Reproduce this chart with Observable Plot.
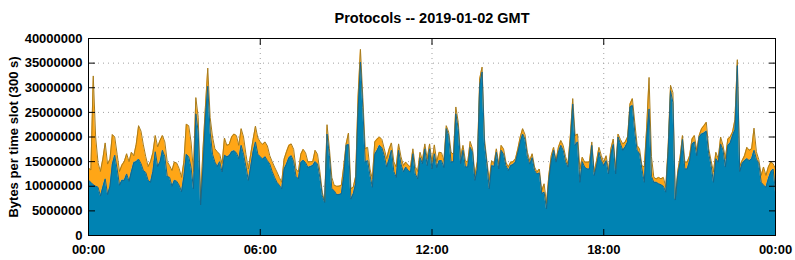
<!DOCTYPE html>
<html><head><meta charset="utf-8">
<script src="https://cdn.jsdelivr.net/npm/d3@7"></script>
<script src="https://cdn.jsdelivr.net/npm/@observablehq/plot@0.6"></script>
<style>body{margin:0;background:#fff}</style>
</head><body><div id="chart"></div>
<script>
const title = "Protocols -- 2019-01-02 GMT";
const yLabel = "Bytes per time slot (300 s)";
const unit = 1000000; // values below are in millions of bytes
const slotMinutes = 5;
const xTicks = [0, 6, 12, 18, 24];
const xTickLabels = ["00:00", "06:00", "12:00", "18:00", "00:00"];
const yTicks = [0, 5000000, 10000000, 15000000, 20000000, 25000000, 30000000, 35000000, 40000000];

// lower (blue) series, one value per 300 s slot
const blueSeries = [
11.2,10.8,10.3,10.0,9.8,8.0,9.8,11.5,8.3,10.0,
14.5,16.3,13.5,10.2,11.2,11.2,12.5,11.0,13.0,14.8,
15.0,15.5,14.6,13.2,12.8,11.2,10.8,13.0,17.0,14.0,
15.0,17.3,16.0,12.0,11.8,10.0,11.2,11.0,10.2,8.9,
12.0,16.5,16.0,13.8,9.5,24.7,21.0,6.2,14.0,24.0,
30.3,21.0,16.5,14.9,14.0,15.0,12.9,16.3,16.0,16.2,
17.0,17.2,16.8,15.6,18.3,16.5,14.0,11.2,14.0,17.0,
19.0,16.5,16.0,15.5,16.0,15.2,14.5,13.0,11.8,10.8,
10.2,9.5,13.5,14.5,15.8,16.2,15.0,12.0,11.5,14.8,
15.3,14.8,13.8,14.0,14.2,15.0,14.5,11.8,8.1,6.7,
20.6,16.2,9.5,9.1,8.3,8.3,8.5,12.0,18.3,18.5,
7.4,8.5,10.5,25.4,35.2,26.0,14.9,15.2,12.2,9.8,
16.5,17.3,18.3,17.8,16.2,13.9,15.5,17.3,13.0,11.8,
17.3,14.5,12.9,13.9,13.2,12.9,16.6,12.5,11.5,15.8,
14.6,17.6,14.2,17.6,13.5,16.6,13.8,15.2,15.2,13.8,
21.7,20.3,14.9,15.0,24.7,21.7,14.6,17.3,13.9,13.9,
17.9,16.9,11.2,13.5,30.5,33.2,18.6,14.6,9.5,14.2,
14.0,16.9,13.5,17.3,16.5,14.2,13.2,14.2,14.4,14.9,
16.9,19.0,20.6,19.5,16.0,14.5,15.8,13.2,12.5,12.7,
8.5,8.8,5.4,11.3,15.2,17.3,14.9,16.9,18.3,17.3,
15.0,13.9,19.0,26.7,18.3,19.0,10.8,15.0,13.9,13.5,
13.5,18.3,12.2,14.2,16.9,15.2,14.2,15.2,12.5,16.6,
18.5,12.5,20.0,18.6,17.3,18.0,19.0,26.1,26.4,21.0,
17.3,16.6,13.5,10.8,20.0,25.7,12.0,10.8,10.8,10.5,
10.3,10.0,8.8,17.0,29.4,27.0,7.2,12.2,14.9,19.5,
13.5,13.5,15.2,18.6,19.0,16.2,20.0,20.6,20.8,21.2,
16.6,14.2,10.8,15.6,14.9,18.6,17.3,13.9,18.3,18.8,
20.3,21.5,34.5,13.0,14.6,15.2,15.6,15.2,15.6,17.3,
15.5,14.6,10.8,10.2,9.8,11.5,12.9,13.5,8.8
];

// upper (orange) series, stacked on the blue one
const orangeSeries = [
2.5,2.5,22.1,10.0,5.0,5.0,5.7,7.3,6.2,5.5,
6.0,3.7,3.0,2.8,3.1,3.8,4.1,4.0,3.9,1.4,
3.5,6.8,6.6,5.2,3.2,2.8,4.2,3.8,3.3,4.0,
4.3,3.0,3.0,3.0,2.4,3.2,3.7,3.7,3.4,2.9,
3.0,6.1,6.3,5.2,3.5,3.3,3.0,1.3,3.5,2.0,
3.7,3.0,3.5,2.7,3.0,1.5,1.7,3.5,2.3,2.3,
3.0,3.4,3.5,2.7,3.4,3.5,2.5,2.3,2.5,2.5,
3.2,3.3,3.0,3.0,3.0,3.0,1.7,2.0,2.1,2.1,
1.6,1.3,2.0,2.5,2.5,2.4,2.5,1.5,1.4,1.7,
2.2,2.0,1.1,1.0,0.8,2.3,2.0,1.2,0.7,0.1,
1.9,1.4,2.3,1.1,1.7,1.7,1.7,2.0,0.3,2.3,
2.1,1.3,1.5,2.7,2.6,2.0,2.7,2.7,1.3,1.7,
2.5,2.3,1.7,1.7,1.4,1.7,2.0,1.5,2.0,2.1,
1.3,1.5,1.3,1.0,1.1,1.0,1.0,1.5,1.5,1.1,
0.6,1.0,1.3,1.0,1.4,1.8,1.2,1.7,1.6,1.4,
0.6,0.7,2.0,1.5,1.4,1.3,1.3,1.0,1.3,1.0,
1.2,0.7,1.0,1.5,1.3,1.0,1.0,0.6,1.7,1.0,
0.6,0.7,1.0,1.0,1.1,0.7,0.7,0.7,0.6,0.7,
0.7,1.0,1.1,1.0,0.9,0.7,0.8,0.7,0.4,0.8,
0.6,1.7,1.1,1.0,1.0,0.6,0.3,1.0,1.0,1.0,
1.0,0.6,1.3,1.1,2.0,1.6,2.7,0.9,1.0,1.4,
1.4,0.7,0.7,1.0,1.0,1.0,0.7,1.0,0.7,1.0,
1.1,1.0,0.6,0.9,1.3,1.0,1.0,0.6,1.4,2.0,
1.0,1.0,0.7,3.1,2.0,6.4,4.0,1.0,0.7,1.3,
1.2,1.8,1.0,1.0,1.1,2.0,0.2,0.7,1.0,0.8,
1.4,1.4,1.0,1.0,1.3,1.1,0.3,1.1,1.5,1.8,
1.0,1.0,2.1,1.3,0.7,1.4,1.0,1.7,1.3,1.2,
0.7,2.0,1.2,1.0,0.6,1.0,2.3,2.1,2.0,4.5,
1.5,0.8,1.4,3.7,2.4,2.4,2.0,1.1,4.7
];

const blueFill = "#0083b3", blueEdge = "#17668a";
const orangeFill = "#ffa616", orangeEdge = "#a87c1c";

const rows = blueSeries.map((b, i) => ({
  t: i * slotMinutes / 60,
  blue: b * unit,
  total: (b + orangeSeries[i]) * unit
}));

const chart = Plot.plot({
  width: 795,
  height: 260,
  marginLeft: 88,
  marginRight: 20,
  marginTop: 38,
  marginBottom: 25,
  style: {fontFamily: "'Liberation Sans', Arial, sans-serif", fontSize: "13px", fontWeight: "bold", background: "#fff", color: "#000"},
  x: {domain: [0, 24], label: null},
  y: {domain: [0, 40000000], label: null},
  marks: [
    Plot.gridY(yTicks, {stroke: "#a0a0a0", strokeOpacity: 1, strokeDasharray: "1,4"}),
    Plot.gridX(xTicks, {stroke: "#a0a0a0", strokeOpacity: 1, strokeDasharray: "1,4"}),
    Plot.areaY(rows, {x: "t", y1: "blue", y2: "total", fill: orangeFill}),
    Plot.areaY(rows, {x: "t", y1: 0, y2: "blue", fill: blueFill}),
    Plot.lineY(rows, {x: "t", y: "total", stroke: orangeEdge, strokeWidth: 1}),
    Plot.lineY(rows, {x: "t", y: "blue", stroke: blueEdge, strokeWidth: 1}),
    Plot.axisY(yTicks, {anchor: "left", tickSize: 0, tickPadding: 6, tickFormat: d => String(d), label: null}),
    Plot.axisY(yTicks, {anchor: "left", tickSize: 7, dx: 7, tickFormat: () => "", label: null}),
    Plot.axisY(yTicks, {anchor: "right", tickSize: 7, dx: -7, tickFormat: () => "", label: null}),
    Plot.axisX(xTicks, {anchor: "bottom", tickSize: 0, tickPadding: 9, tickFormat: d => xTickLabels[xTicks.indexOf(d)], label: null}),
    Plot.axisX(xTicks, {anchor: "bottom", tickSize: 6, dy: -6, tickFormat: () => "", label: null}),
    Plot.axisX(xTicks, {anchor: "top", tickSize: 6, dy: 6, tickFormat: () => "", label: null}),
    Plot.frame({stroke: "#000", strokeWidth: 1}),
    Plot.text([yLabel], {frameAnchor: "left", textAnchor: "middle", rotate: -90, dx: -75, fontSize: 13, fontWeight: "bold"}),
    Plot.text([title], {frameAnchor: "top", dy: -26, fontSize: 14.5, fontWeight: "bold"})
  ]
});
document.getElementById("chart").appendChild(chart);
</script>
</body></html>
